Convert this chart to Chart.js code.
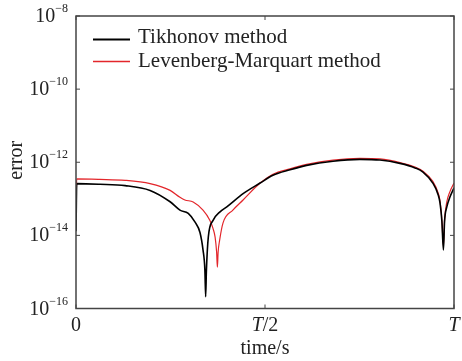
<!DOCTYPE html>
<html>
<head>
<meta charset="utf-8">
<script src="https://cdn.jsdelivr.net/npm/chart.js@4"></script>
<style>
  html, body { margin: 0; padding: 0; background: #fff; }
  canvas { display: block; }
</style>
</head>
<body>
<canvas id="errChart" width="462" height="361"></canvas>
<script>
// time as a fraction of T, error values
const tTik = [0, 0.002, 0.063, 0.130, 0.196, 0.249, 0.275, 0.297, 0.315, 0.328, 0.336, 0.341, 0.343, 0.345, 0.350, 0.363, 0.381, 0.399, 0.443, 0.487, 0.521, 0.566, 0.610, 0.680, 0.751, 0.804, 0.857, 0.897, 0.918, 0.944, 0.958, 0.963, 0.968, 0.972, 0.975, 0.981, 0.989, 1.0];
const eTik = [1.3e-14, 2.6e-13, 2.5e-13, 2.3e-13, 1.7e-13, 8.3e-14, 4.9e-14, 4.0e-14, 2.3e-14, 1.2e-14, 4e-15, 1.1e-15, 2.1e-16, 1.1e-15, 9e-15, 2.6e-14, 4.4e-14, 6e-14, 1.4e-13, 2.7e-13, 4.4e-13, 6.2e-13, 8.2e-13, 1.07e-12, 1.2e-12, 1.15e-12, 9.3e-13, 7e-13, 5.4e-13, 2.7e-13, 1.3e-13, 7.7e-14, 2.4e-14, 4e-15, 2.4e-14, 6e-14, 1.1e-13, 2e-13];

const tLM = [0, 0.002, 0.063, 0.130, 0.196, 0.249, 0.275, 0.288, 0.310, 0.336, 0.354, 0.362, 0.368, 0.372, 0.374, 0.376, 0.380, 0.389, 0.415, 0.442, 0.487, 0.521, 0.566, 0.610, 0.680, 0.751, 0.804, 0.857, 0.897, 0.918, 0.944, 0.958, 0.963, 0.968, 0.972, 0.975, 0.981, 0.989, 1.0];
const eLM = [6e-14, 3.5e-13, 3.4e-13, 3.2e-13, 2.6e-13, 1.7e-13, 1.1e-13, 9.3e-14, 8.2e-14, 4.9e-14, 2.6e-14, 1.6e-14, 9e-15, 3.5e-15, 1.35e-15, 3.5e-15, 7.4e-15, 2.2e-14, 4.9e-14, 9.3e-14, 2.7e-13, 4.7e-13, 6.6e-13, 8.7e-13, 1.15e-12, 1.28e-12, 1.23e-12, 9.8e-13, 7.4e-13, 5.7e-13, 3e-13, 1.45e-13, 8.7e-14, 2.6e-14, 5e-15, 2.6e-14, 8.2e-14, 1.55e-13, 2.7e-13];

const seriesNames = ["Tikhonov method", "Levenberg-Marquart method"];
const seriesColors = ["#000000", "#e3262b"];

const yTickExp = [-16, -14, -12, -10, -8];
const xTickVals = [0, 0.5, 1];
const xTickLabels = [["", "0"], ["T", "/2"], ["T", ""]];   // [italic part, upright part]

const SERIF = '"Liberation Serif", "Times New Roman", serif';
const FS = 20;

function toPoints(ts, es) {
    return ts.map((t, i) => ({ x: t, y: es[i] }));
}

// frame, inward ticks, tick labels, axis titles and legend
const axesPlugin = {
    id: 'axesFrame',
    afterDatasetsDraw(chart) {
        const ctx = chart.ctx;
        const a = chart.chartArea;
        const xs = chart.scales.x;
        const ys = chart.scales.y;
        const tick = 4;

        ctx.save();
        ctx.strokeStyle = '#444';
        ctx.lineWidth = 1.5;
        ctx.strokeRect(a.left, a.top, a.right - a.left, a.bottom - a.top);

        ctx.lineWidth = 1;
        ctx.beginPath();
        yTickExp.forEach(e => {
            const py = ys.getPixelForValue(Math.pow(10, e));
            ctx.moveTo(a.left, py); ctx.lineTo(a.left + tick, py);
            ctx.moveTo(a.right, py); ctx.lineTo(a.right - tick, py);
        });
        xTickVals.forEach(v => {
            const px = xs.getPixelForValue(v);
            ctx.moveTo(px, a.bottom); ctx.lineTo(px, a.bottom - tick);
            ctx.moveTo(px, a.top); ctx.lineTo(px, a.top + tick);
        });
        ctx.stroke();

        ctx.fillStyle = '#222';
        ctx.textBaseline = 'alphabetic';

        // y tick labels: 10 with superscript exponent
        yTickExp.forEach(e => {
            const py = ys.getPixelForValue(Math.pow(10, e));
            const exp = '\u2212' + Math.abs(e);
            ctx.font = '12px ' + SERIF;
            const we = ctx.measureText(exp).width;
            ctx.font = FS + 'px ' + SERIF;
            const wb = ctx.measureText('10').width;
            const right = a.left - 8;
            ctx.textAlign = 'left';
            ctx.fillText('10', right - we - wb, py + 6);
            ctx.font = '12px ' + SERIF;
            ctx.fillText(exp, right - we, py - 4);
        });

        // x tick labels
        xTickVals.forEach((v, i) => {
            const px = xs.getPixelForValue(v);
            const [it, up] = xTickLabels[i];
            ctx.font = 'italic ' + FS + 'px ' + SERIF;
            const wi = ctx.measureText(it).width;
            ctx.font = FS + 'px ' + SERIF;
            const wu = ctx.measureText(up).width;
            const x0 = px - (wi + wu) / 2;
            ctx.textAlign = 'left';
            ctx.font = 'italic ' + FS + 'px ' + SERIF;
            ctx.fillText(it, x0, a.bottom + 22);
            ctx.font = FS + 'px ' + SERIF;
            ctx.fillText(up, x0 + wi, a.bottom + 22);
        });

        // axis titles
        ctx.font = FS + 'px ' + SERIF;
        ctx.textAlign = 'center';
        ctx.fillText('time/s', (a.left + a.right) / 2, a.bottom + 45);
        ctx.save();
        ctx.translate(22, (a.top + a.bottom) / 2 - 2);
        ctx.rotate(-Math.PI / 2);
        ctx.fillText('error', 0, 0);
        ctx.restore();

        // legend inside the plot
        chart.data.datasets.forEach((ds, i) => {
            const ly = a.top + 23.5 + i * 22;
            ctx.strokeStyle = ds.borderColor;
            ctx.lineWidth = i === 0 ? 2 : 1.3;
            ctx.beginPath();
            ctx.moveTo(a.left + 17, ly);
            ctx.lineTo(a.left + 54, ly);
            ctx.stroke();
            ctx.fillStyle = '#222';
            ctx.textAlign = 'left';
            ctx.font = '21px ' + SERIF;
            ctx.fillText(ds.label, a.left + 62, a.top + 27 + i * 24);
        });
        ctx.restore();
    }
};

new Chart(document.getElementById('errChart'), {
    type: 'line',
    data: {
        datasets: [
            { label: seriesNames[0], data: toPoints(tTik, eTik), borderColor: seriesColors[0], borderWidth: 1.6 },
            { label: seriesNames[1], data: toPoints(tLM, eLM), borderColor: seriesColors[1], borderWidth: 1.2 }
        ]
    },
    options: {
        responsive: false,
        animation: false,
        devicePixelRatio: 1,
        layout: { padding: { left: 76, right: 8, top: 16, bottom: 52.5 } },
        elements: {
            point: { radius: 0 },
            line: { cubicInterpolationMode: 'monotone', fill: false }
        },
        scales: {
            x: { type: 'linear', min: 0, max: 1, display: false },
            y: { type: 'logarithmic', min: 1e-16, max: 1e-8, display: false }
        },
        plugins: {
            legend: { display: false },
            tooltip: { enabled: false }
        }
    },
    plugins: [axesPlugin]
});
</script>
</body>
</html>
